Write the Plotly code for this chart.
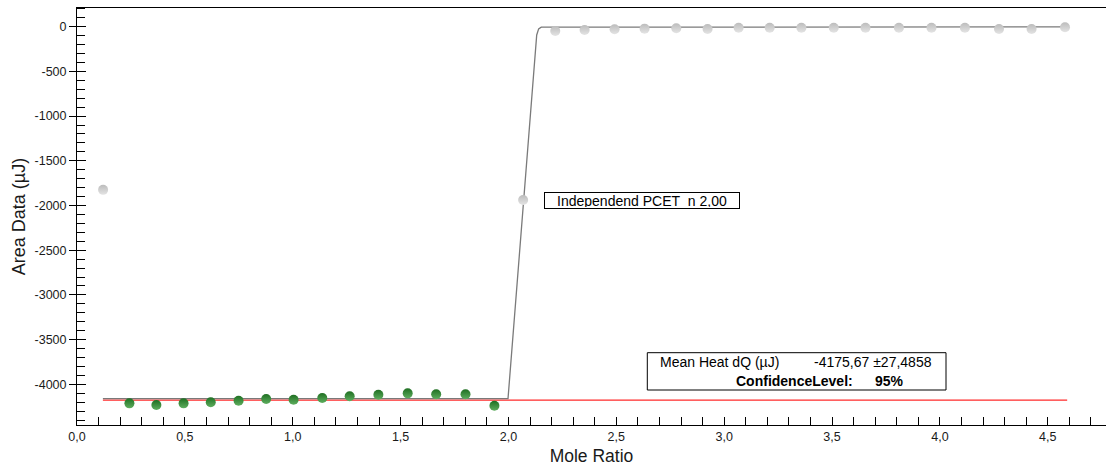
import plotly.graph_objects as go

# ---------------- data ----------------
excluded_x = [0.121]
excluded_y = [-1825]

green_x = [0.243, 0.368, 0.494, 0.620, 0.749, 0.877, 1.004, 1.137, 1.264,
           1.397, 1.533, 1.665, 1.801, 1.935]
green_y = [-4213, -4232, -4213, -4201, -4183, -4164, -4172, -4153, -4134,
           -4116, -4101, -4112, -4112, -4240]

gray_x = [2.068, 2.217, 2.353, 2.492, 2.631, 2.778, 2.923, 3.067, 3.211,
          3.358, 3.508, 3.655, 3.810, 3.961, 4.116, 4.274, 4.425, 4.580]
gray_y = [-1938, -48, -37, -29, -22, -18, -26, -11, -11,
          -11, -11, -11, -11, -11, -11, -26, -26, -7]

fit_x = [0.120, 1.998, 2.131, 2.140, 2.152, 4.580]
fit_y = [-4160, -4160, -93, -25, -5, -3]

mean_heat = -4175.67
mean_x = [0.120, 4.590]
mean_y = [mean_heat, mean_heat]

x_tick_vals = [0.0, 0.5, 1.0, 1.5, 2.0, 2.5, 3.0, 3.5, 4.0, 4.5]
x_tick_text = ["0,0", "0,5", "1,0", "1,5", "2,0", "2,5", "3,0", "3,5", "4,0", "4,5"]
y_tick_vals = [0, -500, -1000, -1500, -2000, -2500, -3000, -3500, -4000]
y_tick_text = ["0", "-500", "-1000", "-1500", "-2000", "-2500", "-3000", "-3500", "-4000"]

X_RANGE = [0, 4.77]
Y_RANGE = [-4455, 209]

# ---------------- figure ----------------
FONT = "Liberation Sans, Arial, sans-serif"
W, H = 1108, 473
ML, MR, MT, MB = 77, 2, 8, 48
PW, PH = W - ML - MR, H - MT - MB


def px(x):
    return (x - ML) / PW


def py(y):
    return (H - MB - y) / PH


fig = go.Figure()

fig.add_trace(go.Scatter(x=mean_x, y=mean_y, mode="lines",
                         line=dict(color="#ff2a2a", width=1.2),
                         hoverinfo="skip"))
fig.add_trace(go.Scatter(x=fit_x, y=fit_y, mode="lines",
                         line=dict(color="#7a7a7a", width=1.3),
                         hoverinfo="skip"))
fig.add_trace(go.Scatter(x=excluded_x + gray_x, y=excluded_y + gray_y, mode="markers",
                         marker=dict(size=10, color="#bcbcbc",
                                     gradient=dict(type="vertical", color="#e4e4e4"),
                                     line=dict(width=0))))
fig.add_trace(go.Scatter(x=green_x, y=green_y, mode="markers",
                         marker=dict(size=10, color="#1f6f22",
                                     gradient=dict(type="vertical", color="#5fae5f"),
                                     line=dict(width=0))))

axis_common = dict(showgrid=False, zeroline=False, showline=True,
                   linecolor="black", linewidth=1,
                   tickfont=dict(family=FONT, size=12.5, color="#1a1a1a"),
                   tickcolor="black", tickwidth=1)

fig.update_layout(
    width=W, height=H,
    margin=dict(l=ML, r=MR, t=MT, b=MB, autoexpand=False),
    paper_bgcolor="white", plot_bgcolor="white",
    showlegend=False,
    font=dict(family=FONT, color="#1a1a1a"),
    xaxis=dict(**axis_common, range=X_RANGE, mirror=True,
               tickmode="array", tickvals=x_tick_vals, ticktext=x_tick_text,
               ticks="inside", ticklen=8,
               minor=dict(tickmode="linear", tick0=0, dtick=0.1, ticks="inside",
                          ticklen=8, tickcolor="black", tickwidth=1),
               title=dict(text="Mole Ratio", font=dict(family=FONT, size=17.5, color="#1a1a1a"),
                          standoff=6),
               automargin=False),
    yaxis=dict(**axis_common, range=Y_RANGE,
               tickmode="array", tickvals=y_tick_vals, ticktext=y_tick_text,
               ticks="outside", ticklen=7,
               minor=dict(tickmode="linear", tick0=0, dtick=100, ticks="inside",
                          ticklen=8, tickcolor="black", tickwidth=1),
               title=dict(text="Area Data (µJ)", font=dict(family=FONT, size=18, color="#1a1a1a"),
                          standoff=4),
               automargin=False),
    yaxis2=dict(overlaying="y", anchor="x", side="left", range=Y_RANGE,
                showgrid=False, zeroline=False, showline=False,
                tickmode="array", tickvals=y_tick_vals, showticklabels=False,
                ticks="inside", ticklen=9, tickcolor="black", tickwidth=1),
)

# dummy trace to activate yaxis2
fig.add_trace(go.Scatter(x=[None], y=[None], yaxis="y2", hoverinfo="skip"))

# "Independend PCET  n 2,00" box
fig.add_annotation(xref="paper", yref="paper", x=px(642), y=py(200.5),
                   xanchor="center", yanchor="middle", showarrow=False,
                   text="Independend PCET\u00a0\u00a0n 2,00",
                   font=dict(family=FONT, size=14, color="black"),
                   bgcolor="white", bordercolor="black", borderwidth=1, borderpad=1,
                   width=192, height=13)

# Mean heat box
fig.add_shape(type="rect", xref="paper", yref="paper",
              x0=px(647.3), x1=px(946), y0=py(390), y1=py(352.7),
              line=dict(color="black", width=1), fillcolor="white", layer="above")
box_texts = [
    ("Mean Heat dQ (µJ)", 658, 361.7),
    ("-4175,67 ±27,4858", 811.7, 361.7),
    ("<b>ConfidenceLevel:</b>", 734, 380.7),
    ("<b>95%</b>", 873.3, 380.7),
]
for t, xx, yy in box_texts:
    fig.add_annotation(xref="paper", yref="paper", x=px(xx), y=py(yy),
                       xanchor="left", yanchor="middle", showarrow=False,
                       text=t, font=dict(family=FONT, size=14, color="black"))

fig.write_html("out.html")
